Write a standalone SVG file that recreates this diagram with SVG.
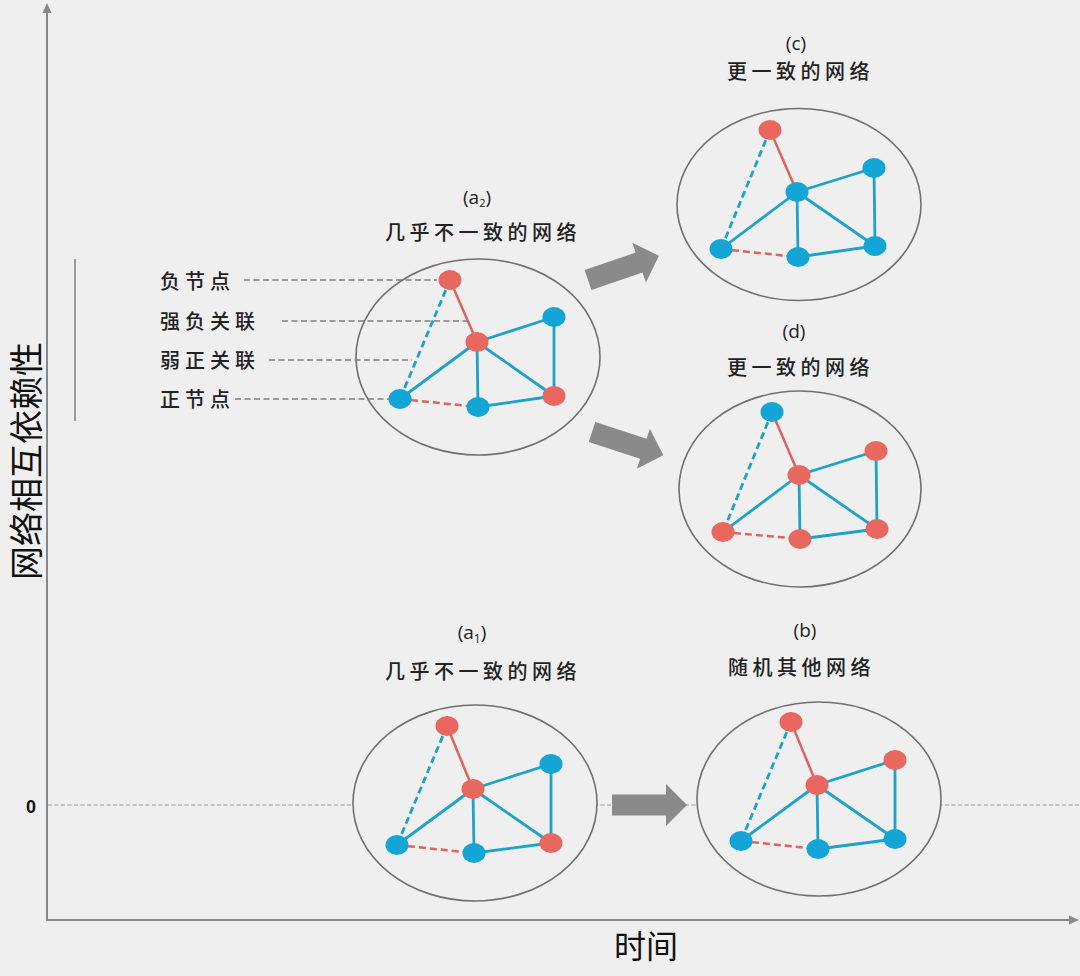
<svg xmlns="http://www.w3.org/2000/svg" xmlns:xlink="http://www.w3.org/1999/xlink" width="1080" height="976" viewBox="0 0 1080 976">
<style>
.t{font-family:"Noto Sans CJK SC","Noto Sans",sans-serif;fill:#222;}
.ti{font-size:20px;letter-spacing:4.5px;font-weight:500;}
.lb{font-size:20px;letter-spacing:5px;font-weight:500;}
.par{font-family:"Open Sans","Noto Sans",sans-serif;font-size:19px;fill:#222;text-anchor:middle;font-weight:500;}
.ring{fill:#efefef;stroke:#707070;stroke-width:1.6;}
.eb{stroke:#1fa2c8;stroke-width:2.8;fill:none;}
.er{stroke:#e0625c;stroke-width:2.5;fill:none;}
.dash{stroke-dasharray:7 4;}
.nr{fill:#e8675f;}
.nb{fill:#12a5d5;}
.lead{stroke:#808080;stroke-width:1.3;stroke-dasharray:6 3.5;fill:none;}
.axis{stroke:#888;stroke-width:2;fill:none;}
.big{fill:#8a8a8a;}
</style>
<defs>
<path id="bigArrow" d="M0,-10.5 H54 V-21 L75,0 L54,21 V10.5 H0 Z"/>
</defs>
<rect x="0" y="0" width="1080" height="976" fill="#efefef"/>

<g id="axes">
<line class="axis" x1="47" y1="10" x2="47" y2="920"/>
<polygon points="47,3 42.5,13 51.5,13" fill="#888"/>
<line class="axis" x1="46" y1="920" x2="1070" y2="920"/>
<polygon points="1079,920 1069,915.5 1069,924.5" fill="#888"/>
<line x1="48" y1="805" x2="1080" y2="805" stroke="#9a9a9a" stroke-width="1.2" stroke-dasharray="4 2.5"/>
<line x1="75" y1="259" x2="75" y2="421" stroke="#888" stroke-width="1.6"/>
<text x="31" y="813" font-family="Liberation Sans, Arial, sans-serif" font-size="18" font-weight="bold" fill="#111" text-anchor="middle">0</text>
<text class="t" transform="translate(39,461) rotate(-90)" font-size="34" text-anchor="middle" style="fill:#111">网络相互依赖性</text>
<text class="t" x="646" y="958" font-size="32" text-anchor="middle" style="fill:#111">时间</text>
</g>

<g id="labels">
<text class="t lb" x="160" y="289">负节点</text>
<text class="t lb" x="160" y="329">强负关联</text>
<text class="t lb" x="160" y="368">弱正关联</text>
<text class="t lb" x="160" y="407">正节点</text>
</g>

<g id="network-a2">
<ellipse class="ring" cx="478" cy="357" rx="122" ry="98"/>
<text class="par" x="477" y="204">(a<tspan font-size="11" dy="3">2</tspan><tspan dy="-3">)</tspan></text>
<text class="t ti" x="385" y="240">几乎不一致的网络</text>
<line class="er" x1="450" y1="280" x2="477" y2="342"/>
<line class="eb dash" x1="450" y1="280" x2="400" y2="399"/>
<line class="eb" x1="477" y1="342" x2="554" y2="317"/>
<line class="eb" x1="477" y1="342" x2="400" y2="399"/>
<line class="eb" x1="477" y1="342" x2="478" y2="407"/>
<line class="eb" x1="477" y1="342" x2="554" y2="396"/>
<line class="eb" x1="554" y1="317" x2="554" y2="396"/>
<line class="eb" x1="478" y1="407" x2="554" y2="396"/>
<line class="er dash" x1="400" y1="399" x2="478" y2="407"/>
<ellipse class="nr" cx="450" cy="280" rx="11.5" ry="10"/>
<ellipse class="nr" cx="477" cy="342" rx="11.5" ry="10"/>
<ellipse class="nb" cx="554" cy="317" rx="11.5" ry="10"/>
<ellipse class="nb" cx="400" cy="399" rx="11.5" ry="10"/>
<ellipse class="nb" cx="478" cy="407" rx="11.5" ry="10"/>
<ellipse class="nr" cx="554" cy="396" rx="11.5" ry="10"/>
</g>

<g id="network-c">
<ellipse class="ring" cx="799" cy="204.5" rx="122" ry="96"/>
<text class="par" x="796" y="50">(c)</text>
<text class="t ti" x="727" y="79">更一致的网络</text>
<line class="er" x1="770" y1="130" x2="797" y2="192"/>
<line class="eb dash" x1="770" y1="130" x2="721" y2="249"/>
<line class="eb" x1="797" y1="192" x2="874" y2="168"/>
<line class="eb" x1="797" y1="192" x2="721" y2="249"/>
<line class="eb" x1="797" y1="192" x2="798" y2="257"/>
<line class="eb" x1="797" y1="192" x2="875" y2="246"/>
<line class="eb" x1="874" y1="168" x2="875" y2="246"/>
<line class="eb" x1="798" y1="257" x2="875" y2="246"/>
<line class="er dash" x1="721" y1="249" x2="798" y2="257"/>
<ellipse class="nr" cx="770" cy="130" rx="11.5" ry="10"/>
<ellipse class="nb" cx="797" cy="192" rx="11.5" ry="10"/>
<ellipse class="nb" cx="874" cy="168" rx="11.5" ry="10"/>
<ellipse class="nb" cx="721" cy="249" rx="11.5" ry="10"/>
<ellipse class="nb" cx="798" cy="257" rx="11.5" ry="10"/>
<ellipse class="nb" cx="875" cy="246" rx="11.5" ry="10"/>
</g>

<g id="network-d">
<ellipse class="ring" cx="800" cy="489" rx="121" ry="98"/>
<text class="par" x="794" y="338">(d)</text>
<text class="t ti" x="727" y="375">更一致的网络</text>
<line class="er" x1="772" y1="412" x2="799" y2="475"/>
<line class="eb dash" x1="772" y1="412" x2="723" y2="532"/>
<line class="eb" x1="799" y1="475" x2="876" y2="451"/>
<line class="eb" x1="799" y1="475" x2="723" y2="532"/>
<line class="eb" x1="799" y1="475" x2="800" y2="539"/>
<line class="eb" x1="799" y1="475" x2="877" y2="529"/>
<line class="eb" x1="876" y1="451" x2="877" y2="529"/>
<line class="eb" x1="800" y1="539" x2="877" y2="529"/>
<line class="er dash" x1="723" y1="532" x2="800" y2="539"/>
<ellipse class="nb" cx="772" cy="412" rx="11.5" ry="10"/>
<ellipse class="nr" cx="799" cy="475" rx="11.5" ry="10"/>
<ellipse class="nr" cx="876" cy="451" rx="11.5" ry="10"/>
<ellipse class="nr" cx="723" cy="532" rx="11.5" ry="10"/>
<ellipse class="nr" cx="800" cy="539" rx="11.5" ry="10"/>
<ellipse class="nr" cx="877" cy="529" rx="11.5" ry="10"/>
</g>

<g id="network-a1">
<ellipse class="ring" cx="475" cy="803" rx="122" ry="98"/>
<text class="par" x="472" y="639">(a<tspan font-size="12" dy="4">1</tspan><tspan dy="-4">)</tspan></text>
<text class="t ti" x="385" y="679">几乎不一致的网络</text>
<line class="er" x1="447" y1="726" x2="473" y2="789"/>
<line class="eb dash" x1="447" y1="726" x2="397" y2="845"/>
<line class="eb" x1="473" y1="789" x2="551" y2="764"/>
<line class="eb" x1="473" y1="789" x2="397" y2="845"/>
<line class="eb" x1="473" y1="789" x2="474" y2="853"/>
<line class="eb" x1="473" y1="789" x2="551" y2="843"/>
<line class="eb" x1="551" y1="764" x2="551" y2="843"/>
<line class="eb" x1="474" y1="853" x2="551" y2="843"/>
<line class="er dash" x1="397" y1="845" x2="474" y2="853"/>
<ellipse class="nr" cx="447" cy="726" rx="11.5" ry="10"/>
<ellipse class="nr" cx="473" cy="789" rx="11.5" ry="10"/>
<ellipse class="nb" cx="551" cy="764" rx="11.5" ry="10"/>
<ellipse class="nb" cx="397" cy="845" rx="11.5" ry="10"/>
<ellipse class="nb" cx="474" cy="853" rx="11.5" ry="10"/>
<ellipse class="nr" cx="551" cy="843" rx="11.5" ry="10"/>
</g>

<g id="network-b">
<ellipse class="ring" cx="819" cy="799" rx="122" ry="97"/>
<text class="par" x="805" y="637">(b)</text>
<text class="t ti" x="728" y="675">随机其他网络</text>
<line class="er" x1="791" y1="722" x2="817" y2="785"/>
<line class="eb dash" x1="791" y1="722" x2="741" y2="841"/>
<line class="eb" x1="817" y1="785" x2="895" y2="760"/>
<line class="eb" x1="817" y1="785" x2="741" y2="841"/>
<line class="eb" x1="817" y1="785" x2="818" y2="849"/>
<line class="eb" x1="817" y1="785" x2="895" y2="839"/>
<line class="eb" x1="895" y1="760" x2="895" y2="839"/>
<line class="eb" x1="818" y1="849" x2="895" y2="839"/>
<line class="er dash" x1="741" y1="841" x2="818" y2="849"/>
<ellipse class="nr" cx="791" cy="722" rx="11.5" ry="10"/>
<ellipse class="nr" cx="817" cy="785" rx="11.5" ry="10"/>
<ellipse class="nr" cx="895" cy="760" rx="11.5" ry="10"/>
<ellipse class="nb" cx="741" cy="841" rx="11.5" ry="10"/>
<ellipse class="nb" cx="818" cy="849" rx="11.5" ry="10"/>
<ellipse class="nb" cx="895" cy="839" rx="11.5" ry="10"/>
</g>

<g id="connectors">
<line class="lead" x1="244" y1="280" x2="437" y2="280"/>
<line class="lead" x1="282" y1="321" x2="470" y2="321"/>
<line class="lead" x1="269" y1="360" x2="412" y2="360"/>
<line class="lead" x1="235" y1="399" x2="390" y2="399"/>
<use xlink:href="#bigArrow" class="big" transform="translate(588,280) rotate(-18.9)"/>
<use xlink:href="#bigArrow" class="big" transform="translate(592,432) rotate(18)"/>
<use xlink:href="#bigArrow" class="big" transform="translate(612,805)"/>
</g>
</svg>
